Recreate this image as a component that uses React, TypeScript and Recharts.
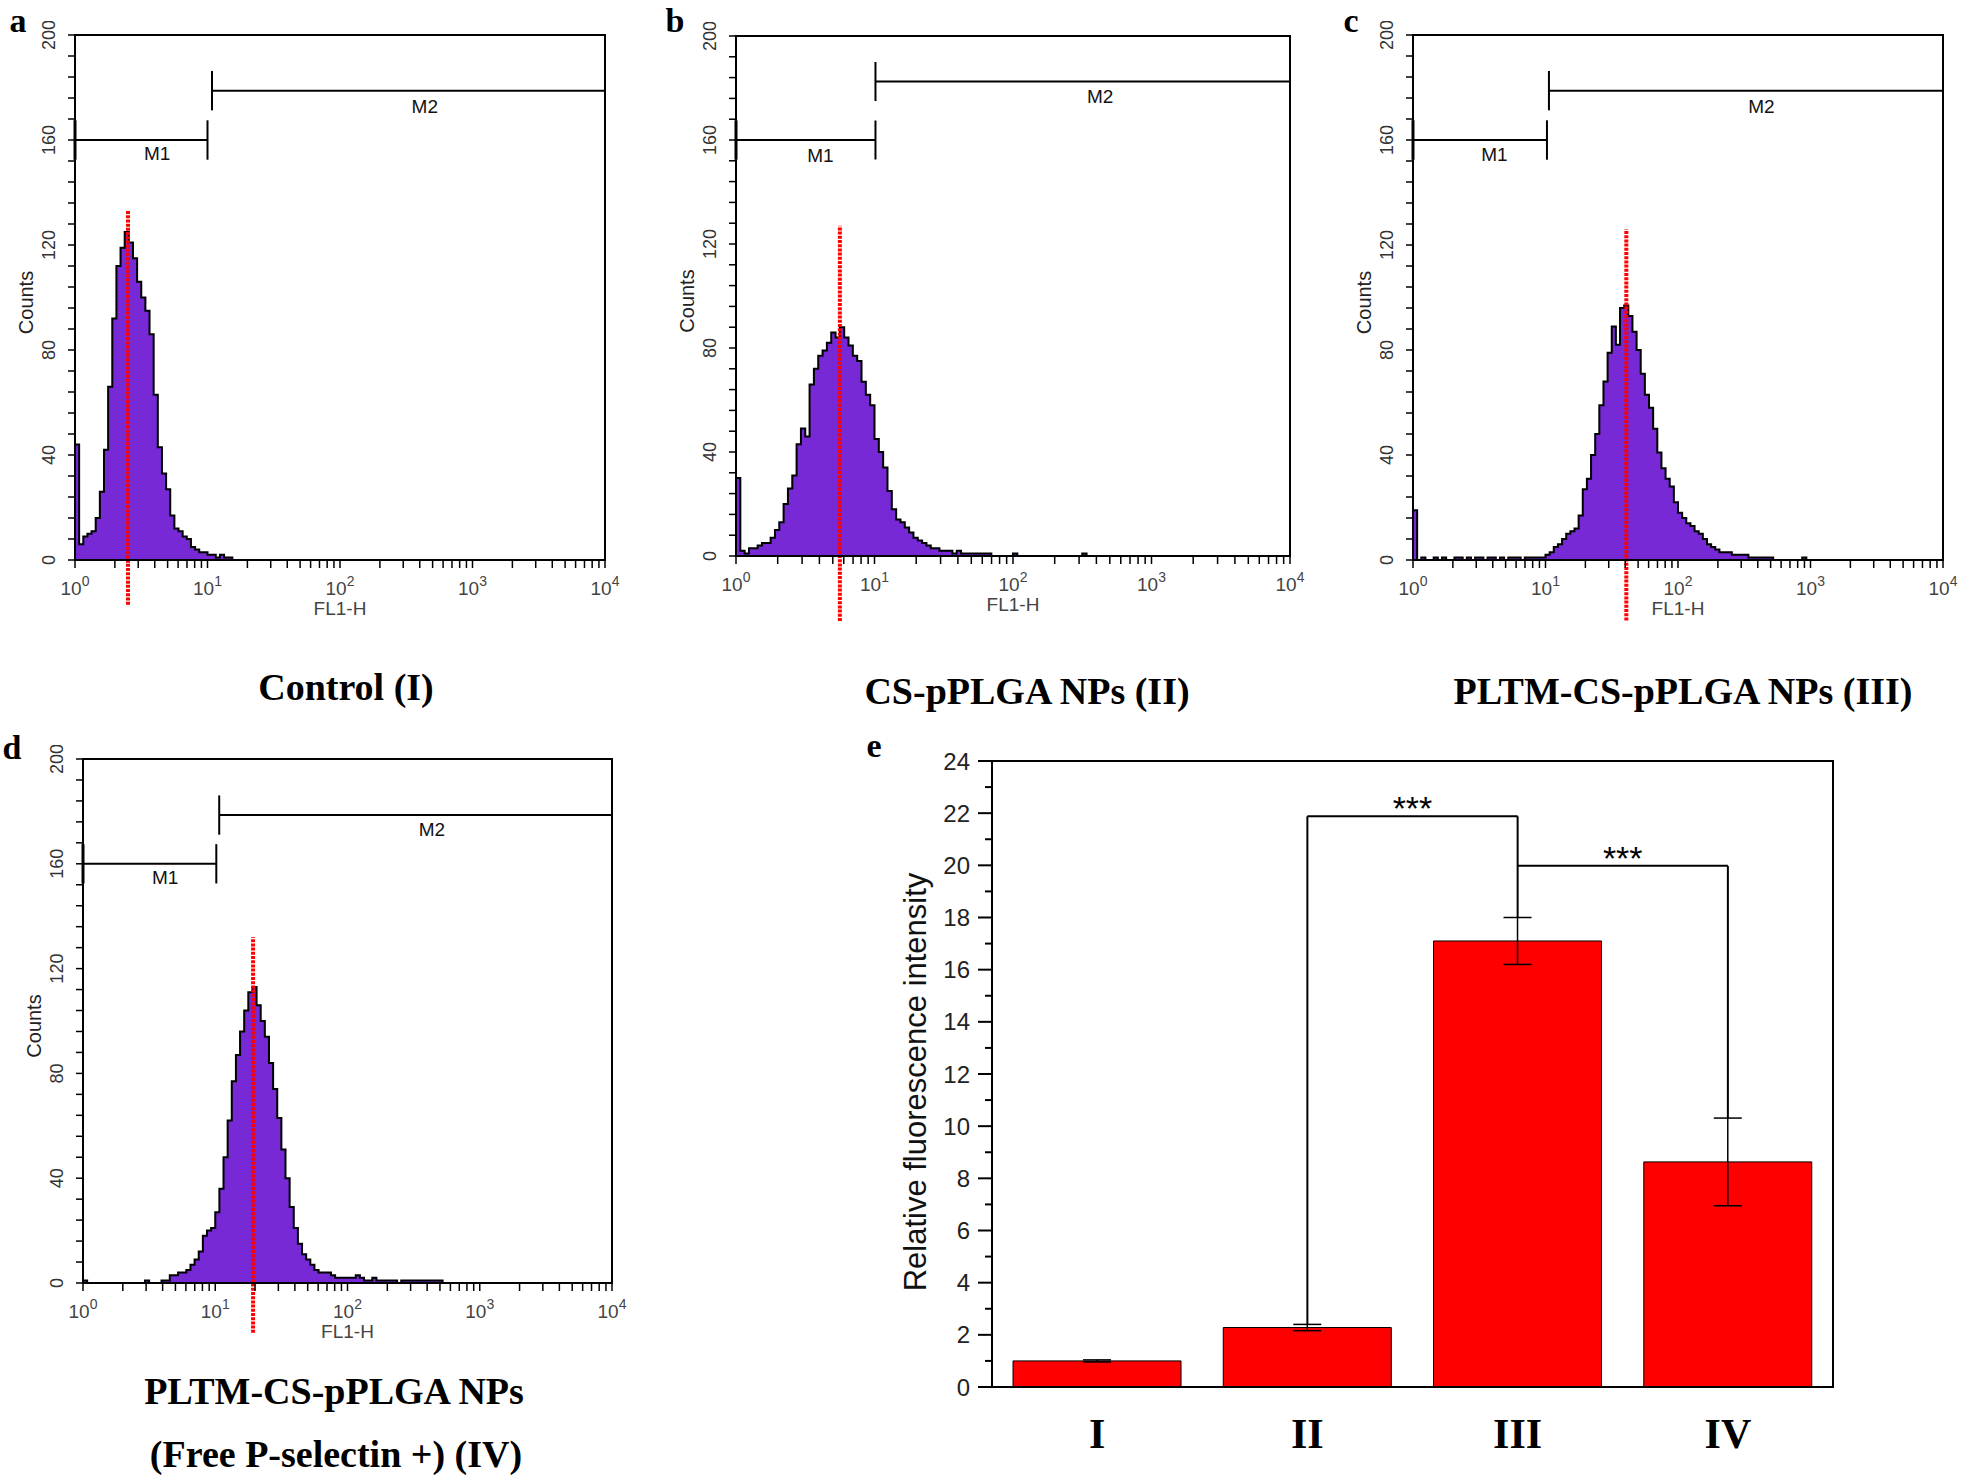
import React from 'react';
import {
  ComposedChart,
  Area,
  XAxis,
  YAxis,
  ReferenceLine,
  ReferenceArea,
  ReferenceDot,
  BarChart,
  Bar,
  ErrorBar,
} from 'recharts';

const SANS = '"Liberation Sans", Arial, Helvetica, sans-serif';
const SERIF = '"Liberation Serif", "Times New Roman", Times, serif';
const PURPLE = '#7629d4';
const RED = '#ff0000';

// ---- flow cytometry histograms: counts per channel, 32 channels per decade starting at 10^0
const CH_PER_DECADE = 32;

const countsA = [
  44, 6, 9, 10, 11, 16, 26, 42, 66, 92, 112, 119, 125, 121, 115, 106, 100, 95, 86, 63,
  43, 33, 27, 17, 12, 11, 9, 8, 5, 4, 3, 3, 2, 2, 1, 2, 1, 1, 0,
];

const countsB = [
  30, 2, 1, 3, 3, 4, 5, 5, 7, 10, 13, 20, 26, 31, 43, 49, 46, 66, 72, 77,
  79, 82, 86, 84, 88, 84, 81, 77, 75, 67, 62, 58, 45, 40, 34, 25, 18, 14, 13, 11,
  9, 7, 6, 5, 4, 3, 3, 2, 2, 2, 1, 2, 1, 1, 1, 1, 1, 1, 1, 0,
  0, 0, 0, 0, 1, 0, 0, 0, 0, 0, 0, 0, 0, 0, 0, 0, 0, 0, 0, 0,
  1, 0,
];

const countsC = [
  19, 0, 1, 0, 0, 1, 0, 1, 0, 0, 1, 1, 0, 1, 0, 1, 1, 0, 1, 1,
  0, 1, 0, 1, 1, 1, 0, 1, 1, 1, 1, 1, 2, 3, 5, 6, 8, 10, 11, 12,
  17, 27, 31, 40, 48, 59, 68, 79, 89, 82, 96, 97, 93, 87, 80, 71, 63, 58, 50, 41,
  35, 31, 28, 22, 18, 16, 14, 13, 11, 10, 8, 6, 5, 4, 3, 3, 3, 2, 2, 2,
  2, 1, 1, 1, 1, 1, 1, 0, 0, 0, 0, 0, 0, 0, 1, 0,
];

const countsD = [
  1, 0, 0, 0, 0, 0, 0, 0, 0, 0, 0, 0, 0, 0, 0, 1, 0, 0, 0, 1,
  1, 3, 3, 4, 4, 5, 7, 9, 12, 18, 20, 21, 27, 36, 48, 62, 77, 87, 96, 104,
  111, 113, 106, 100, 94, 84, 74, 63, 51, 40, 29, 21, 15, 11, 9, 7, 5, 4, 4, 4,
  3, 2, 2, 2, 2, 2, 3, 2, 1, 1, 2, 1, 1, 1, 1, 1, 0, 1, 1, 1,
  1, 1, 1, 1, 1, 1, 1, 0,
];

const histograms = [countsA, countsB, countsC, countsD];

// mean marker (red dotted line): position in decades and reach in counts
const markerLog = [0.4, 0.75, 1.61, 1.286];
const markerTop = [133, 127, 126, 132];
const markerBottom = [-17, -25, -23, -19];

// M1 gate from 10^0 to m1End, M2 gate from m2Start to 10^4
const m1Y = [160, 160, 160, 160];
const m1End = [1.0, 1.007, 1.011, 1.008];
const m2Y = [178.8, 182.5, 178.8, 178.6];
const m2Start = [1.034, 1.007, 1.026, 1.03];
const gateHalf = 7.5;
const m1LabelX = [0.62, 0.61, 0.615, 0.622];
const m1LabelY = [155, 154, 154.5, 154.7];
const m2LabelX = [2.64, 2.63, 2.63, 2.638];
const m2LabelY = [172.8, 176.6, 172.8, 173.1];

// ---- relative fluorescence intensity
const groups = ['I', 'II', 'III', 'IV'];
const intensity = [1.0, 2.28, 17.1, 8.63];
const intensitySd = [0.04, 0.12, 0.9, 1.68];
const sigFrom = ['II', 'III'];
const sigTo = ['III', 'IV'];
const sigY = [21.88, 19.98];
const sigFromEnd = [2.4, 19.98];
const sigToEnd = [18.0, 10.31];
const sigText = ['***', '***'];

const logTicks: number[] = [];
for (let d = 0; d < 4; d++) for (let k = 1; k < 10; k++) logTicks.push(d + Math.log10(k));
logTicks.push(4);
const countTicks = Array.from({ length: 26 }, (_, i) => i * 8);
const intensityTicks = Array.from({ length: 25 }, (_, i) => i);

const flowBoxes = [
  { left: 75, top: 35, width: 530, height: 525 },
  { left: 736, top: 36, width: 554, height: 520 },
  { left: 1413, top: 35, width: 530, height: 525 },
  { left: 83, top: 759, width: 529, height: 524 },
];

const captions = [
  { text: 'Control (I)', x: 346, y: 700 },
  { text: 'CS-pPLGA NPs (II)', x: 1027, y: 704 },
  { text: 'PLTM-CS-pPLGA NPs (III)', x: 1683, y: 704 },
  { text: 'PLTM-CS-pPLGA NPs', x: 334, y: 1404 },
  { text: '(Free P-selectin +) (IV)', x: 336, y: 1467 },
];

const letters = [
  { text: 'a', x: 18, y: 32 },
  { text: 'b', x: 675, y: 32 },
  { text: 'c', x: 1351, y: 32 },
  { text: 'd', x: 12, y: 759 },
  { text: 'e', x: 874, y: 757 },
];

const renderLogTick = (p: any) => {
  const v = p.payload.value;
  const major = Math.abs(v - Math.round(v)) < 1e-6;
  return (
    <g>
      <line x1={p.x} y1={p.y} x2={p.x} y2={p.y + 8} stroke="#000" strokeWidth={1.5} />
      {major && (
        <text x={p.x} y={p.y + 35} textAnchor="middle" fontSize={19} fill="#444">
          10<tspan dy={-9} fontSize={14}>{Math.round(v)}</tspan>
        </text>
      )}
    </g>
  );
};

const renderCountTick = (p: any) => {
  const v = p.payload.value;
  const lx = p.x - 26;
  return (
    <g>
      <line x1={p.x} y1={p.y} x2={p.x - 7} y2={p.y} stroke="#000" strokeWidth={1.5} />
      {v % 40 === 0 && (
        <text x={lx} y={p.y} transform={`rotate(-90 ${lx} ${p.y})`} textAnchor="middle"
          dominantBaseline="central" fontSize={18} fill="#333">
          {v}
        </text>
      )}
    </g>
  );
};

const renderIntensityTick = (p: any) => {
  const v = p.payload.value;
  const major = v % 2 === 0;
  return (
    <g>
      <line x1={p.x} y1={p.y} x2={p.x - (major ? 14 : 7)} y2={p.y} stroke="#000" strokeWidth={2} />
      {major && (
        <text x={p.x - 22} y={p.y} textAnchor="end" dominantBaseline="central" fontSize={24} fill="#222">
          {v}
        </text>
      )}
    </g>
  );
};

const renderGroupTick = (p: any) => (
  <text x={p.x} y={p.y + 61} textAnchor="middle" fontFamily={SERIF} fontWeight="bold" fontSize={42} fill="#000">
    {p.payload.value}
  </text>
);

function FlowPanel({ i }: { i: number }) {
  const box = flowBoxes[i];
  const data = histograms[i].map((c, ch) => ({ x: ch / CH_PER_DECADE, count: c }));
  const ML = 80, MT = 14, MR = 24, XH = 66;
  const gate = { stroke: '#000', strokeWidth: 2 };

  return (
    <div style={{ position: 'absolute', left: box.left - ML, top: box.top - MT }}>
      <ComposedChart
        width={ML + box.width + MR}
        height={MT + box.height + XH}
        data={data}
        margin={{ top: MT, right: MR, bottom: 0, left: 0 }}
        style={{ fontFamily: SANS }}
      >
        <XAxis
          type="number"
          dataKey="x"
          domain={[0, 4]}
          ticks={logTicks}
          interval={0}
          allowDataOverflow
          height={XH}
          tickSize={0}
          tickMargin={0}
          tickLine={false}
          axisLine={{ stroke: '#000', strokeWidth: 2 }}
          tick={renderLogTick}
          label={{
            content: (p: any) => {
              const vb = p.viewBox;
              return (
                <text x={vb.x + vb.width / 2} y={vb.y + 55} textAnchor="middle" fontSize={19} fill="#444" fontFamily={SANS}>
                  FL1-H
                </text>
              );
            },
          }}
        />
        <YAxis
          type="number"
          domain={[0, 200]}
          ticks={countTicks}
          interval={0}
          width={ML}
          tickSize={0}
          tickMargin={0}
          tickLine={false}
          axisLine={{ stroke: '#000', strokeWidth: 2 }}
          tick={renderCountTick}
          label={{
            content: (p: any) => {
              const vb = p.viewBox;
              const cx = vb.x + vb.width - 49;
              const cy = vb.y + vb.height / 2 + 5;
              return (
                <text x={cx} y={cy} transform={`rotate(-90 ${cx} ${cy})`} textAnchor="middle"
                  dominantBaseline="central" fontSize={20} fill="#222" fontFamily={SANS}>
                  Counts
                </text>
              );
            },
          }}
        />
        <ReferenceArea x1={0} x2={4} y1={0} y2={200} fill="none" fillOpacity={0} stroke="#000" strokeWidth={2} />
        <Area
          type="stepAfter"
          dataKey="count"
          stroke="#000"
          strokeWidth={2}
          fill={PURPLE}
          fillOpacity={1}
          baseValue={0}
          dot={false}
          activeDot={false}
          isAnimationActive={false}
        />

        <ReferenceLine segment={[{ x: 0, y: m1Y[i] }, { x: m1End[i], y: m1Y[i] }]} {...gate} />
        <ReferenceLine segment={[{ x: 0, y: m1Y[i] - gateHalf }, { x: 0, y: m1Y[i] + gateHalf }]} {...gate} strokeWidth={3} />
        <ReferenceLine segment={[{ x: m1End[i], y: m1Y[i] - gateHalf }, { x: m1End[i], y: m1Y[i] + gateHalf }]} {...gate} />
        <ReferenceLine segment={[{ x: m2Start[i], y: m2Y[i] }, { x: 4, y: m2Y[i] }]} {...gate} />
        <ReferenceLine segment={[{ x: m2Start[i], y: m2Y[i] - gateHalf }, { x: m2Start[i], y: m2Y[i] + gateHalf }]} {...gate} />

        <ReferenceDot
          x={m1LabelX[i]}
          y={m1LabelY[i]}
          r={0}
          shape={(p: any) => (
            <text x={p.cx} y={p.cy} textAnchor="middle" dominantBaseline="central" fontSize={19} fill="#111" fontFamily={SANS}>
              M1
            </text>
          )}
        />
        <ReferenceDot
          x={m2LabelX[i]}
          y={m2LabelY[i]}
          r={0}
          shape={(p: any) => (
            <text x={p.cx} y={p.cy} textAnchor="middle" dominantBaseline="central" fontSize={19} fill="#111" fontFamily={SANS}>
              M2
            </text>
          )}
        />

        <ReferenceLine
          segment={[{ x: markerLog[i], y: markerBottom[i] }, { x: markerLog[i], y: markerTop[i] }]}
          stroke={RED}
          strokeWidth={4}
          strokeDasharray="3 1.2"
          ifOverflow="visible"
        />
      </ComposedChart>
    </div>
  );
}

function IntensityPanel() {
  const data = groups.map((g, i) => ({ group: g, value: intensity[i], sd: intensitySd[i] }));
  const ML = 110, MT = 40, MR = 20, XH = 80;
  const left = 992, top = 761, width = 841, height = 626;
  const line = { stroke: '#000', strokeWidth: 2, ifOverflow: 'visible' as const };

  return (
    <div style={{ position: 'absolute', left: left - ML, top: top - MT }}>
      <BarChart
        width={ML + width + MR}
        height={MT + height + XH}
        data={data}
        margin={{ top: MT, right: MR, bottom: 0, left: 0 }}
        barCategoryGap="10%"
        style={{ fontFamily: SANS }}
      >
        <XAxis
          dataKey="group"
          height={XH}
          interval={0}
          tickSize={0}
          tickMargin={0}
          tickLine={false}
          axisLine={{ stroke: '#000', strokeWidth: 2 }}
          tick={renderGroupTick}
        />
        <YAxis
          type="number"
          domain={[0, 24]}
          ticks={intensityTicks}
          interval={0}
          width={ML}
          tickSize={0}
          tickMargin={0}
          tickLine={false}
          axisLine={{ stroke: '#000', strokeWidth: 2 }}
          tick={renderIntensityTick}
          label={{
            content: (p: any) => {
              const vb = p.viewBox;
              const cx = vb.x + vb.width - 77;
              const cy = vb.y + vb.height / 2 + 8;
              return (
                <text x={cx} y={cy} transform={`rotate(-90 ${cx} ${cy})`} textAnchor="middle"
                  dominantBaseline="central" fontSize={31} fill="#111" fontFamily={SANS}>
                  Relative fluorescence intensity
                </text>
              );
            },
          }}
        />
        <ReferenceArea y1={0} y2={24} fill="none" fillOpacity={0} stroke="#000" strokeWidth={2} ifOverflow="visible" />
        <Bar dataKey="value" fill={RED} stroke="#000" strokeWidth={1} isAnimationActive={false}>
          <ErrorBar dataKey="sd" width={14} stroke="#000" strokeWidth={1.5} direction="y" />
        </Bar>

        {sigY.map((y, k) => (
          <React.Fragment key={k}>
            <ReferenceLine segment={[{ x: sigFrom[k], y: sigFromEnd[k] }, { x: sigFrom[k], y }]} {...line} />
            <ReferenceLine
              segment={[{ x: sigFrom[k], y }, { x: sigTo[k], y }]}
              {...line}
              label={{
                content: (p: any) => {
                  const vb = p.viewBox;
                  return (
                    <text x={vb.x + vb.width / 2} y={vb.y + 4} textAnchor="middle" fontSize={34} fill="#000" fontFamily={SANS}>
                      {sigText[k]}
                    </text>
                  );
                },
              }}
            />
            <ReferenceLine segment={[{ x: sigTo[k], y }, { x: sigTo[k], y: sigToEnd[k] }]} {...line} />
          </React.Fragment>
        ))}
      </BarChart>
    </div>
  );
}

export default function App() {
  return (
    <div style={{ position: 'absolute', left: 0, top: 0, width: 1961, height: 1483, background: '#fff', overflow: 'hidden' }}>
      {flowBoxes.map((_, i) => (
        <FlowPanel key={i} i={i} />
      ))}
      <IntensityPanel />
      <svg width={1961} height={1483} style={{ position: 'absolute', left: 0, top: 0, pointerEvents: 'none' }}>
        {captions.map((c) => (
          <text key={c.text} x={c.x} y={c.y} textAnchor="middle" fontFamily={SERIF} fontWeight="bold" fontSize={38} fill="#000">
            {c.text}
          </text>
        ))}
        {letters.map((l) => (
          <text key={l.text} x={l.x} y={l.y} textAnchor="middle" fontFamily={SERIF} fontWeight="bold" fontSize={34} fill="#000">
            {l.text}
          </text>
        ))}
      </svg>
    </div>
  );
}
